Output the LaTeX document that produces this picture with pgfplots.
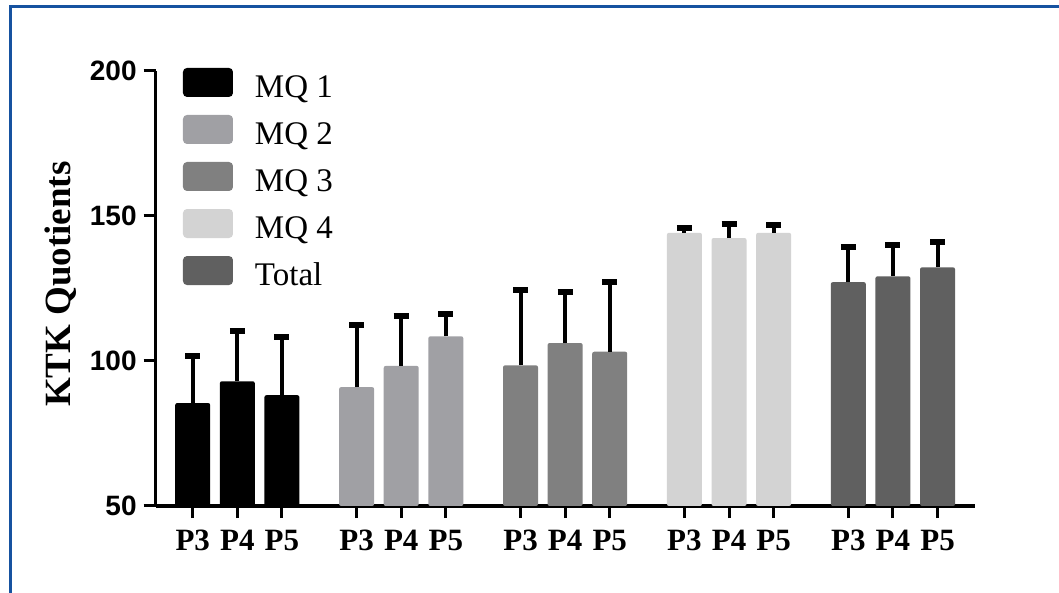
\documentclass[border=0pt]{standalone}
\usepackage{fontspec}
\setmainfont{Liberation Serif}
\newfontfamily\arialf{Liberation Sans}
\usepackage{pgfplots}
\pgfplotsset{compat=1.18}
\usepackage{pgfplotstable}

\definecolor{frameblue}{RGB}{22,82,160}
\definecolor{mqone}{RGB}{0,0,0}
\definecolor{mqtwo}{RGB}{160,160,164}
\definecolor{mqthree}{RGB}{128,128,128}
\definecolor{mqfour}{RGB}{211,211,211}
\definecolor{mqtotal}{RGB}{96,96,96}

% x = bar position, y = mean, e = upper error
\pgfplotstableread{
x y e
0 85.5 16.3
1 93.0 17.3
2 88.2 20.2
}\mqonetab
\pgfplotstableread{
x y e
3.675 91.0 21.3
4.675 98.3 17.2
5.675 108.5 7.6
}\mqtwotab
\pgfplotstableread{
x y e
7.35 98.5 26.0
8.35 106.2 17.7
9.35 103.2 24.0
}\mqthreetab
\pgfplotstableread{
x y e
11.025 144.2 1.6
12.025 142.4 5.0
13.025 144.2 2.6
}\mqfourtab
\pgfplotstableread{
x y e
14.7 127.2 12.0
15.7 129.2 10.8
16.7 132.3 8.6
}\totaltab

\pgfplotsset{
  boxlegend/.style={legend image code/.code={%
    \fill[#1,rounded corners=2pt] (0pt,-4.5pt) rectangle (25pt,10pt);}},
  mybar/.style={ybar, bar shift=0pt, bar width=17.5pt, fill=#1, draw=none,
    rounded corners=1pt, boxlegend=#1},
}

\begin{document}
\begin{tikzpicture}
\useasboundingbox (0,0) rectangle (529.5pt,296.5pt);
\draw[frameblue, line width=1.5pt] (5.25pt,0pt) -- (5.25pt,293.4pt) -- (529.5pt,293.4pt);
\begin{axis}[
    scale only axis,
    width=409.65pt, height=217.5pt,
    at={(77.85pt,43.5pt)}, anchor=south west,
    xmin=-0.83, xmax=17.54,
    ymin=50, ymax=200,
    axis x line*=bottom, axis y line*=left,
    axis line style={line width=1.6pt, black, -},
    xtick={0,1,2,3.675,4.675,5.675,7.35,8.35,9.35,11.025,12.025,13.025,14.7,15.7,16.7},
    xticklabels={P3,P4,P5,P3,P4,P5,P3,P4,P5,P3,P4,P5,P3,P4,P5},
    ytick={50,100,150,200},
    tick align=outside, major tick length=6pt,
    tick style={line width=1.5pt, black},
    xticklabel style={font=\bfseries\fontsize{15.5}{15.5}\selectfont, yshift=-2.5pt},
    yticklabel style={font=\arialf\bfseries\fontsize{14}{14}\selectfont},
    /pgf/number format/assume math mode=true,
    ylabel={KTK Quotients},
    ylabel style={font=\bfseries\fontsize{18.5}{18.5}\selectfont,
      at={(axis description cs:-0.116,0.51)}, anchor=center},
    legend style={draw=none, fill=none,
      at={(axis description cs:0.0333,1.007)}, anchor=north west,
      inner sep=0pt, outer sep=0pt, row sep=7.3pt, column sep=11pt,
      font=\fontsize{16.5}{16.5}\selectfont,
      nodes={inner sep=0pt}},
    legend cell align=left,
    error bars/error bar style={line width=2pt, black},
    error bars/error mark options={rotate=90, line width=3pt, mark size=3.75pt, black},
]
\addplot[mybar=mqone, error bars/.cd, y dir=plus, y explicit]
  table[x=x, y=y, y error=e] {\mqonetab};
\addplot[mybar=mqtwo, error bars/.cd, y dir=plus, y explicit]
  table[x=x, y=y, y error=e] {\mqtwotab};
\addplot[mybar=mqthree, error bars/.cd, y dir=plus, y explicit]
  table[x=x, y=y, y error=e] {\mqthreetab};
\addplot[mybar=mqfour, error bars/.cd, y dir=plus, y explicit]
  table[x=x, y=y, y error=e] {\mqfourtab};
\addplot[mybar=mqtotal, error bars/.cd, y dir=plus, y explicit]
  table[x=x, y=y, y error=e] {\totaltab};
\legend{MQ 1, MQ 2, MQ 3, MQ 4, Total}
\end{axis}
\end{tikzpicture}
\end{document}
